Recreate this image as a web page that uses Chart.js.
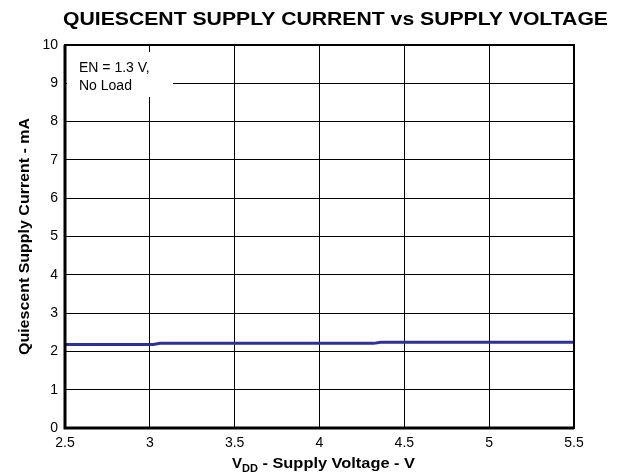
<!DOCTYPE html>
<html>
<head>
<meta charset="utf-8">
<script src="https://cdn.jsdelivr.net/npm/chart.js@4"></script>
<style>
  html, body { margin: 0; padding: 0; background: #fff; }
  #wrap { width: 618px; height: 475px; }
</style>
</head>
<body>
<div id="wrap"><canvas id="qChart" width="618" height="475"></canvas></div>
<script>
// supply voltage (V) and quiescent current (mA)
const vdd = [2.5, 3.02, 3.06, 4.32, 4.36, 5.5];
const iq = [2.18, 2.18, 2.21, 2.21, 2.24, 2.24];
const xTicks = [2.5, 3, 3.5, 4, 4.5, 5, 5.5];
const yTicks = [0, 1, 2, 3, 4, 5, 6, 7, 8, 9, 10];

const FONT = '"Liberation Sans", Arial, Helvetica, sans-serif';

// stretch/squeeze text horizontally to a target width
function fitText(ctx, text, font, x, y, width) {
  ctx.font = font;
  const w = ctx.measureText(text).width;
  const s = width / w;
  ctx.save();
  ctx.translate(x, y);
  ctx.scale(s, 1);
  ctx.fillText(text, 0, 0);
  ctx.restore();
  return w * s;
}

const decor = {
  id: 'decor',
  beforeDatasetsDraw(chart) {
    const { ctx, chartArea: a } = chart;
    ctx.save();
    // note box hides the grid behind it
    ctx.fillStyle = '#fff';
    ctx.fillRect(a.left + 2, 52, 106, 45);
    ctx.fillStyle = '#000';
    ctx.textBaseline = 'alphabetic';
    ctx.textAlign = 'left';
    ctx.font = '14px ' + FONT;
    ctx.fillText('EN = 1.3 V,', 79, 71.5);
    ctx.fillText('No Load', 79, 90);
    ctx.restore();
  },
  afterDraw(chart) {
    const { ctx, chartArea: a } = chart;
    ctx.save();
    // frame
    ctx.strokeStyle = '#000';
    ctx.lineWidth = 2;
    ctx.strokeRect(a.left, a.top, a.right - a.left, a.bottom - a.top);
    ctx.lineWidth = 3;
    ctx.beginPath();
    ctx.moveTo(a.left, a.top);
    ctx.lineTo(a.left, a.bottom);
    ctx.lineTo(a.right, a.bottom);
    ctx.stroke();

    ctx.fillStyle = '#000';
    ctx.textAlign = 'left';
    ctx.textBaseline = 'alphabetic';

    // title
    const title = 'QUIESCENT SUPPLY CURRENT vs SUPPLY VOLTAGE';
    fitText(ctx, title, 'bold 19px ' + FONT, 63, 24.5, 545);

    // x title with subscript
    let x = 232;
    const yb = 467.5;
    ctx.font = 'bold 15px ' + FONT;
    ctx.fillText('V', x, yb);
    x += ctx.measureText('V').width;
    ctx.font = 'bold 11px ' + FONT;
    ctx.fillText('DD', x, yb + 4);
    x += ctx.measureText('DD').width;
    fitText(ctx, ' - Supply Voltage - V', 'bold 15px ' + FONT, x, yb, 415 - x);

    // y title
    ctx.save();
    ctx.translate(29, 355);
    ctx.rotate(-Math.PI / 2);
    fitText(ctx, 'Quiescent Supply Current - mA', 'bold 15px ' + FONT, 0, 0, 237);
    ctx.restore();
    ctx.restore();
  }
};

new Chart(document.getElementById('qChart'), {
  type: 'line',
  data: {
    datasets: [{
      data: vdd.map((v, i) => ({ x: v, y: iq[i] })),
      borderColor: '#2e3192',
      borderWidth: 3,
      pointRadius: 0,
      tension: 0,
      fill: false
    }]
  },
  options: {
    responsive: false,
    animation: false,
    layout: { padding: { top: 45, right: 44, left: 0, bottom: 0 } },
    plugins: {
      legend: { display: false },
      tooltip: { enabled: false }
    },
    scales: {
      x: {
        type: 'linear',
        min: 2.5,
        max: 5.5,
        afterBuildTicks(scale) { scale.ticks = xTicks.map(v => ({ value: v })); },
        afterFit(scale) { scale.height = 47; },
        grid: { color: '#000', lineWidth: 1, drawTicks: false },
        border: { display: false },
        ticks: {
          padding: 7,
          color: '#000',
          font: { family: FONT, size: 14 },
          maxRotation: 0,
          callback: v => String(v)
        }
      },
      y: {
        min: 0,
        max: 10,
        afterBuildTicks(scale) { scale.ticks = yTicks.map(v => ({ value: v })); },
        afterFit(scale) { scale.width = 65; },
        grid: { color: '#000', lineWidth: 1, drawTicks: false },
        border: { display: false },
        ticks: {
          padding: 7,
          color: '#000',
          font: { family: FONT, size: 14 },
          callback: v => String(v)
        }
      }
    }
  },
  plugins: [decor]
});
</script>
</body>
</html>
